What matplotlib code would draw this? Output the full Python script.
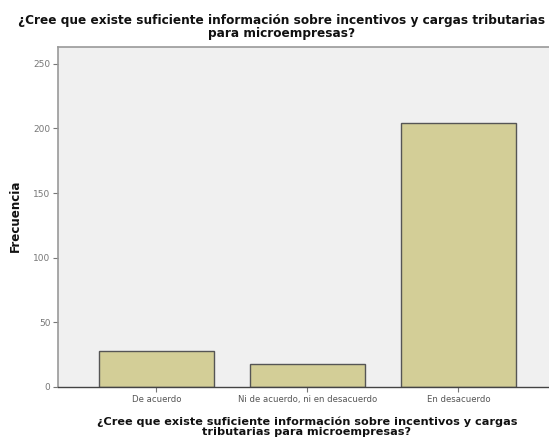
import matplotlib
matplotlib.use("Agg")
import matplotlib.pyplot as plt

categories = ["De acuerdo", "Ni de acuerdo, ni en desacuerdo", "En desacuerdo"]
frequencies = [28, 18, 204]
yticks = [0, 50, 100, 150, 200, 250]
title = "¿Cree que existe suficiente información sobre incentivos y cargas tributarias\npara microempresas?"
xlabel = "¿Cree que existe suficiente información sobre incentivos y cargas\ntributarias para microempresas?"
ylabel = "Frecuencia"

plt.rcParams['font.family'] = ['DejaVu Sans']

fig = plt.figure(figsize=(5.49, 4.41), dpi=100)
fig.patch.set_facecolor("white")
ax = fig.add_axes([58/549, 1-387/441, 1-58/549, (387-47)/441])
ax.set_facecolor("#f0f0f0")

x = list(range(len(categories)))
ax.bar(x, frequencies, width=0.76, color="#d3ce97", edgecolor="#555555", linewidth=1.0, zorder=2)

ax.set_xlim(-0.652, 2.6)
ax.set_ylim(0, 263)
ax.set_yticks(yticks)
ax.set_yticklabels([str(t) for t in yticks], fontsize=6.0, color="#777777")
ax.set_xticks(x)
ax.set_xticklabels(categories, fontsize=5.5, color="#555555")
ax.tick_params(axis='both', direction='out', length=3.5, width=0.8, color="#777777", pad=2)

for side in ["left", "top"]:
    ax.spines[side].set_color("#999999")
    ax.spines[side].set_linewidth(1.2)
ax.spines["bottom"].set_color("#444444")
ax.spines["bottom"].set_linewidth(1.0)
ax.spines["right"].set_visible(False)

bold = dict(fontweight="bold", color="#111111")
t1 = fig.text(282/549, 1-27/441, title, ha="center", va="center", fontsize=8.2,
              linespacing=1.0, **bold)
t2 = fig.text(307/549, 1-427/441, xlabel, ha="center", va="center", fontsize=8.2,
              linespacing=1.05, **bold)
t3 = fig.text(15/549, 1-216/441, ylabel, ha="center", va="center", rotation=90,
              fontsize=7.6, **bold)

# fit text sizes to the reference layout
fig.canvas.draw()
r = fig.canvas.get_renderer()
for t, target, horiz in [(t1, 528, True), (t2, 422, True), (t3, 73, False)]:
    bb = t.get_window_extent(r)
    cur = bb.width if horiz else bb.height
    t.set_fontsize(t.get_fontsize() * target / cur)

lab = ax.get_xticklabels()[1]
s = 139 / lab.get_window_extent(r).width
for l in ax.get_xticklabels():
    l.set_fontsize(l.get_fontsize() * s)
lab = ax.get_yticklabels()[3]
s = 17 / lab.get_window_extent(r).width
for l in ax.get_yticklabels():
    l.set_fontsize(l.get_fontsize() * s)

fig.savefig("out.png", dpi=100, facecolor="white")
